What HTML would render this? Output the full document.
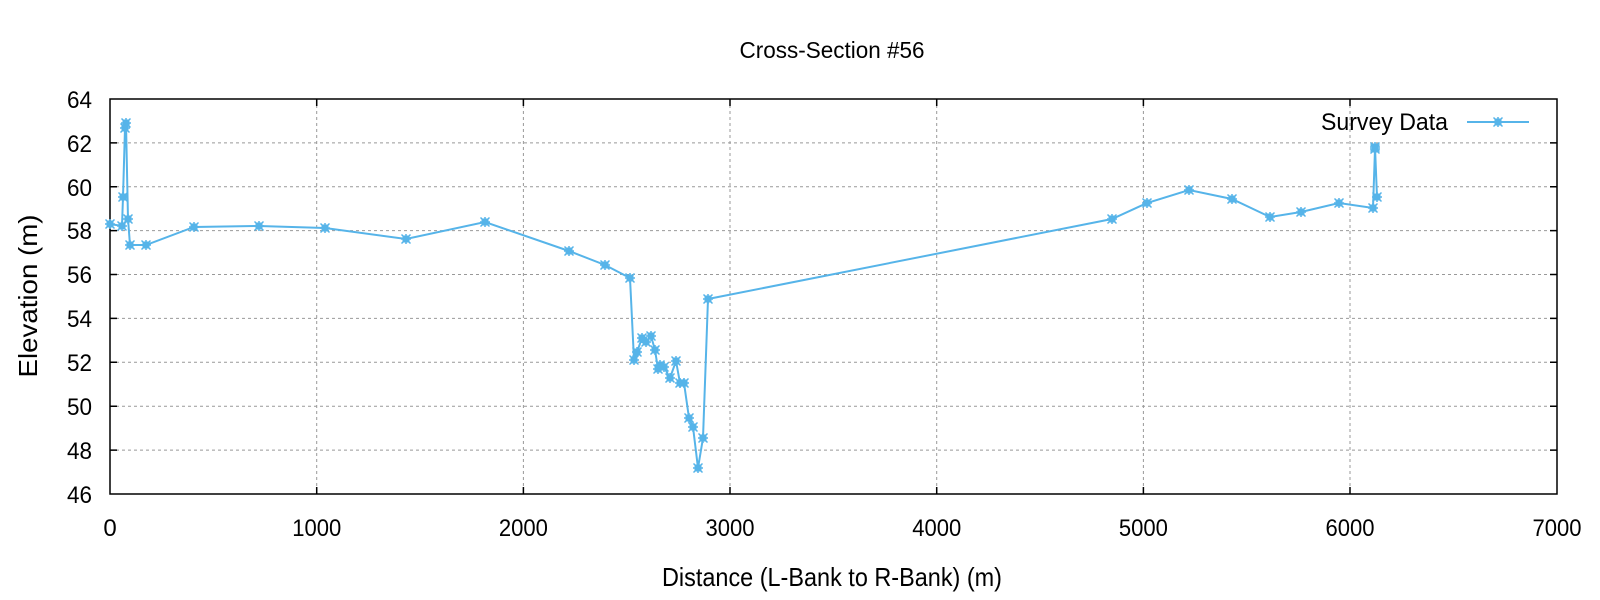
<!DOCTYPE html>
<html><head><meta charset="utf-8"><style>html,body{margin:0;padding:0;background:#fff}svg{display:block}</style></head>
<body>
<svg width="1600" height="600" viewBox="0 0 1600 600" xmlns="http://www.w3.org/2000/svg" font-family="'Liberation Sans Narrow','Liberation Sans',sans-serif" fill="#000">
<defs>
<g id="m"><rect x="-3.5" y="-3.5" width="7" height="7" fill="#56b4e9"/><path d="M-4.5,-4.5L4.5,4.5M-4.5,4.5L4.5,-4.5M0,-5V5M-5,0H5" stroke="#56b4e9" stroke-width="1.5"/></g>
</defs>
<g stroke="#999" stroke-width="1" stroke-dasharray="3,3">
<line x1="316.7" y1="99" x2="316.7" y2="494"/><line x1="523.4" y1="99" x2="523.4" y2="494"/><line x1="730" y1="99" x2="730" y2="494"/><line x1="936.7" y1="99" x2="936.7" y2="494"/><line x1="1143.4" y1="99" x2="1143.4" y2="494"/><line x1="1350" y1="99" x2="1350" y2="494"/>
<line x1="110" y1="142.9" x2="1557" y2="142.9"/><line x1="110" y1="186.8" x2="1557" y2="186.8"/><line x1="110" y1="230.6" x2="1557" y2="230.6"/><line x1="110" y1="274.5" x2="1557" y2="274.5"/><line x1="110" y1="318.4" x2="1557" y2="318.4"/><line x1="110" y1="362.3" x2="1557" y2="362.3"/><line x1="110" y1="406.2" x2="1557" y2="406.2"/><line x1="110" y1="450.1" x2="1557" y2="450.1"/>
</g>
<g stroke="#000" stroke-width="1.5">
<rect x="110" y="99" width="1447" height="395" fill="none"/>
<path d="M316.7,494v-7M523.4,494v-7M730,494v-7M936.7,494v-7M1143.4,494v-7M1350,494v-7M316.7,99v7M523.4,99v7M730,99v7M936.7,99v7M1143.4,99v7M1350,99v7
M110,142.9h7M110,186.8h7M110,230.6h7M110,274.5h7M110,318.4h7M110,362.3h7M110,406.2h7M110,450.1h7
M1557,142.9h-7M1557,186.8h-7M1557,230.6h-7M1557,274.5h-7M1557,318.4h-7M1557,362.3h-7M1557,406.2h-7M1557,450.1h-7"/>
</g>
<g font-size="24" text-anchor="end">
<text x="92" y="108" textLength="25" lengthAdjust="spacingAndGlyphs">64</text>
<text x="92" y="152" textLength="25" lengthAdjust="spacingAndGlyphs">62</text>
<text x="92" y="196" textLength="25" lengthAdjust="spacingAndGlyphs">60</text>
<text x="92" y="239" textLength="25" lengthAdjust="spacingAndGlyphs">58</text>
<text x="92" y="283" textLength="25" lengthAdjust="spacingAndGlyphs">56</text>
<text x="92" y="327" textLength="25" lengthAdjust="spacingAndGlyphs">54</text>
<text x="92" y="371" textLength="25" lengthAdjust="spacingAndGlyphs">52</text>
<text x="92" y="415" textLength="25" lengthAdjust="spacingAndGlyphs">50</text>
<text x="92" y="459" textLength="25" lengthAdjust="spacingAndGlyphs">48</text>
<text x="92" y="503" textLength="25" lengthAdjust="spacingAndGlyphs">46</text>
</g>
<g font-size="24" text-anchor="middle">
<text x="110" y="536">0</text>
<text x="316.7" y="536" textLength="49" lengthAdjust="spacingAndGlyphs">1000</text>
<text x="523.4" y="536" textLength="49" lengthAdjust="spacingAndGlyphs">2000</text>
<text x="730" y="536" textLength="49" lengthAdjust="spacingAndGlyphs">3000</text>
<text x="936.7" y="536" textLength="49" lengthAdjust="spacingAndGlyphs">4000</text>
<text x="1143.4" y="536" textLength="49" lengthAdjust="spacingAndGlyphs">5000</text>
<text x="1350" y="536" textLength="49" lengthAdjust="spacingAndGlyphs">6000</text>
<text x="1557" y="536" textLength="49" lengthAdjust="spacingAndGlyphs">7000</text>
</g>
<text x="832" y="58" font-size="23" text-anchor="middle" textLength="185" lengthAdjust="spacingAndGlyphs">Cross-Section #56</text>
<text x="832" y="586" font-size="26" text-anchor="middle" textLength="340" lengthAdjust="spacingAndGlyphs">Distance (L-Bank to R-Bank) (m)</text>
<text transform="translate(37,296) rotate(-90)" font-size="26" text-anchor="middle" textLength="163" lengthAdjust="spacingAndGlyphs">Elevation (m)</text>
<text x="1448" y="130" font-size="24" text-anchor="end" textLength="127" lengthAdjust="spacingAndGlyphs">Survey Data</text>
<line x1="1467" y1="122" x2="1529" y2="122" stroke="#56b4e9" stroke-width="2"/>
<use href="#m" x="1498" y="122"/>
<polyline fill="none" stroke="#56b4e9" stroke-width="2" points="110,224 122,226 123,197 125,128 126,123 128,219 130,245 146,245 194,227 259,226 325,228 406,239 485,222 569,251 605,265 630,278 634,360 637,352 642,338 646,342 651,336 655,350 658,369 660,365 664,367 670,378 676,361 680,383 684,383 689,418 693,427 698,468 703,438 708,299 1112,219 1147,203 1189,190 1232,199 1270,217 1301,212 1339,203 1373,208 1375,149 1375,147 1377,197"/>
<g>
<use href="#m" x="110" y="224"/><use href="#m" x="122" y="226"/><use href="#m" x="123" y="197"/><use href="#m" x="125" y="128"/><use href="#m" x="126" y="123"/><use href="#m" x="128" y="219"/><use href="#m" x="130" y="245"/><use href="#m" x="146" y="245"/><use href="#m" x="194" y="227"/><use href="#m" x="259" y="226"/><use href="#m" x="325" y="228"/><use href="#m" x="406" y="239"/><use href="#m" x="485" y="222"/><use href="#m" x="569" y="251"/><use href="#m" x="605" y="265"/><use href="#m" x="630" y="278"/><use href="#m" x="634" y="360"/><use href="#m" x="637" y="352"/><use href="#m" x="642" y="338"/><use href="#m" x="646" y="342"/><use href="#m" x="651" y="336"/><use href="#m" x="655" y="350"/><use href="#m" x="658" y="369"/><use href="#m" x="660" y="365"/><use href="#m" x="664" y="367"/><use href="#m" x="670" y="378"/><use href="#m" x="676" y="361"/><use href="#m" x="680" y="383"/><use href="#m" x="684" y="383"/><use href="#m" x="689" y="418"/><use href="#m" x="693" y="427"/><use href="#m" x="698" y="468"/><use href="#m" x="703" y="438"/><use href="#m" x="708" y="299"/><use href="#m" x="1112" y="219"/><use href="#m" x="1147" y="203"/><use href="#m" x="1189" y="190"/><use href="#m" x="1232" y="199"/><use href="#m" x="1270" y="217"/><use href="#m" x="1301" y="212"/><use href="#m" x="1339" y="203"/><use href="#m" x="1373" y="208"/><use href="#m" x="1375" y="149"/><use href="#m" x="1375" y="147"/><use href="#m" x="1377" y="197"/>
</g>
</svg>
</body></html>
